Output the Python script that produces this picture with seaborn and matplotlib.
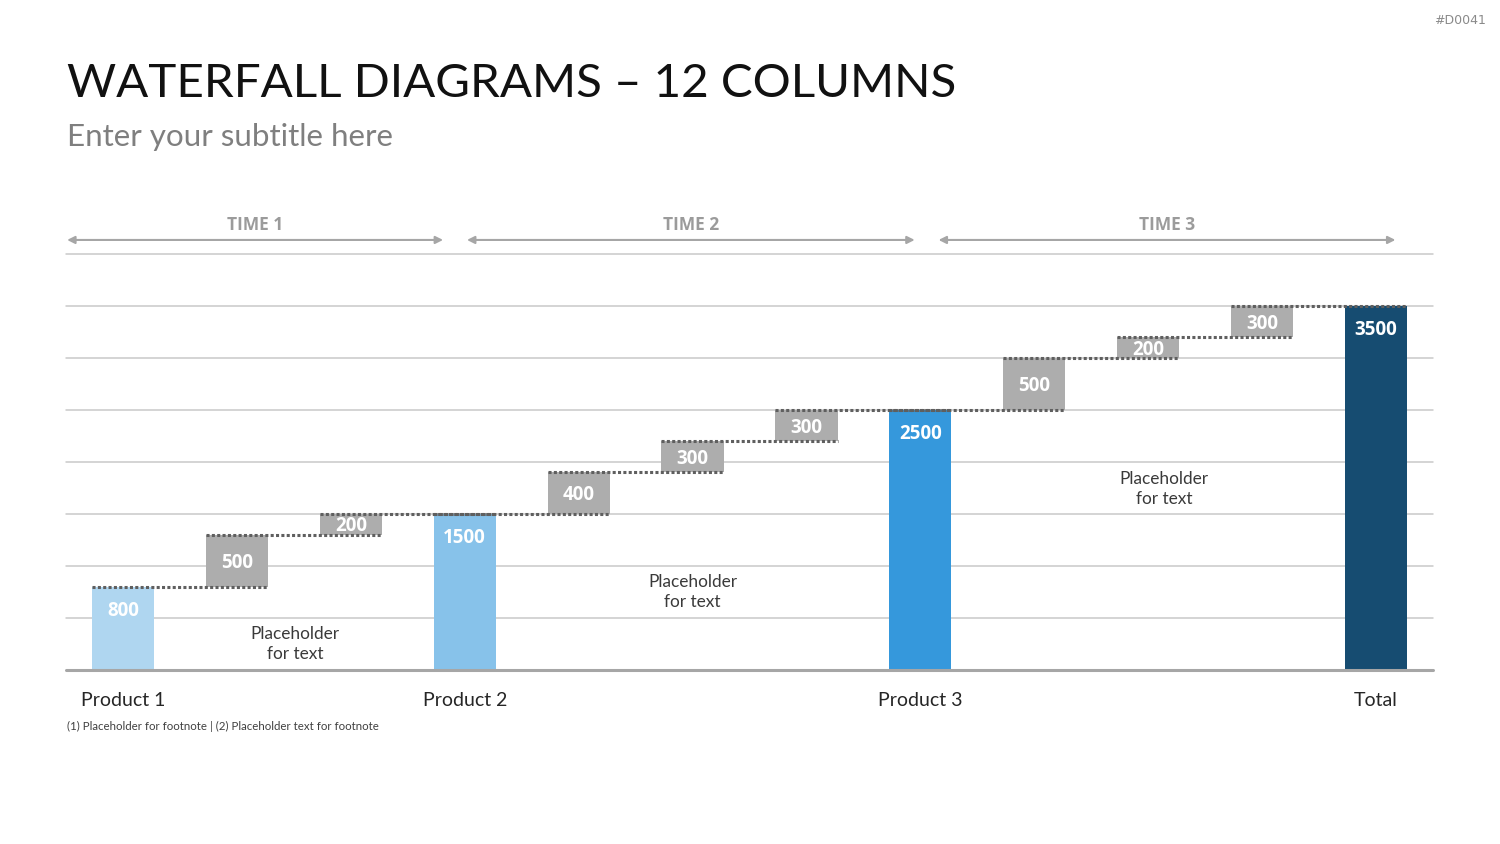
import matplotlib
matplotlib.use("Agg")
import matplotlib.pyplot as plt
import seaborn as sns
import pandas as pd

# Data
categories = ["Product 1", "Step 1a", "Step 1b", "Product 2", "Step 2a", "Step 2b",
              "Step 2c", "Product 3", "Step 3a", "Step 3b", "Step 3c", "Total"]
tick_labels = ["Product 1", "", "", "Product 2", "", "", "", "Product 3", "", "", "", "Total"]
values = [800, 500, 200, 1500, 400, 300, 300, 2500, 500, 200, 300, 3500]
is_total = [True, False, False, True, False, False, False, True, False, False, False, True]
total_colors = ["#AFD6F0", "#87C2EA", "#3598DC", "#164C71"]
time_labels = ["TIME 1", "TIME 2", "TIME 3"]
placeholder_text = "Placeholder\nfor text"

# Waterfall bottoms / tops
bottoms, tops = [], []
running = 0
for v, t in zip(values, is_total):
    if t:
        bottoms.append(0)
        running = v
    else:
        bottoms.append(running)
        running += v
    tops.append(running)

df = pd.DataFrame({"category": categories, "value": values, "bottom": bottoms})

sns.set_theme(style="white")
plt.rcParams["font.family"] = ["Lato", "DejaVu Sans"]
BOLD_FONT = ["Open Sans", "DejaVu Sans"]

fig = plt.figure(figsize=(15, 8.44), dpi=100)
ax = fig.add_axes([66 / 1500, 1 - 670 / 844, (1433 - 66) / 1500, (670 - 254) / 844])

GRAY = "#ADADAD"
BAR_W = 0.545
sns.barplot(data=df, x="category", y="value", order=categories, color=GRAY,
            width=BAR_W, errorbar=None, bottom=bottoms, saturation=1,
            linewidth=0, zorder=3, ax=ax)

# recolour the total columns
k = 0
for patch, t in zip(ax.patches, is_total):
    if t:
        patch.set_facecolor(total_colors[k])
        k += 1

ax.set_ylim(0, 4000)
ax.set_xlim(-0.5, len(categories) - 0.5)
sns.despine(ax=ax, left=True, bottom=True, top=True, right=True)

# gridlines
for y in range(500, 4001, 500):
    ax.axhline(y, color="#C9C9C9", lw=1.1, zorder=1, clip_on=False)
ax.axhline(0, color="#A6A6A6", lw=2.2, zorder=4, clip_on=False)

# dotted connectors
for i in range(len(categories) - 1):
    ax.hlines(tops[i], i - BAR_W / 2, i + 1 + BAR_W / 2, colors="#5F5F5F",
              linestyles=(0, (1, 0.75)), lw=2.2, zorder=5)

# bar labels
for i, (v, b, t) in enumerate(zip(values, bottoms, is_total)):
    if t:
        y = v - 230
    else:
        y = b + v / 2 - 20
    ax.text(i, y, str(v), ha="center", va="center", color="white",
            fontsize=13.5, fontweight="bold", family=BOLD_FONT, zorder=6)

# placeholders
for x, y in [(1.51, 250), (5.0, 750), (9.14, 1740)]:
    ax.text(x, y, placeholder_text, ha="center", va="center", fontsize=12.4,
            color="#3A3A3A", linespacing=1.3, zorder=6)

# time arrows
spans = [(-0.49, 2.81), (3.02, 6.95), (7.16, 11.17)]
for lab, (x0, x1) in zip(time_labels, spans):
    ax.annotate("", xy=(x1, 4135), xytext=(x0, 4135), annotation_clip=False,
                arrowprops=dict(arrowstyle="<|-|>", color="#A6A6A6", lw=1.5,
                                mutation_scale=11, shrinkA=0, shrinkB=0))
    ax.text((x0 + x1) / 2, 4280, lab, ha="center", va="center", fontsize=12.5,
            fontweight="bold", family=BOLD_FONT, color="#9B9B9B", clip_on=False)

# x axis
ax.set_yticks([])
ax.set_xticks(range(len(categories)))
ax.set_xticklabels(tick_labels, fontsize=14, color="#262626")
ax.tick_params(axis="x", length=0, pad=16)
ax.set_xlabel("")
ax.set_ylabel("")

# titles
fig.text(67 / 1500, 1 - 84 / 844, "WATERFALL DIAGRAMS \u2013 12 COLUMNS", ha="left",
         va="center", fontsize=34.2, color="#111111")
fig.text(67 / 1500, 1 - 137 / 844, "Enter your subtitle here", ha="left", va="center",
         fontsize=22.6, color="#7F7F7F")
fig.text(67 / 1500, 1 - 726 / 844, "(1) Placeholder for footnote | (2) Placeholder text for footnote",
         ha="left", va="center", fontsize=8.3, color="#404040")
fig.text(1486 / 1500, 1 - 20 / 844, "#D0041", ha="right", va="center", fontsize=9,
         color="#8A8A8A", family="DejaVu Sans")

fig.savefig("out.png", dpi=100)
